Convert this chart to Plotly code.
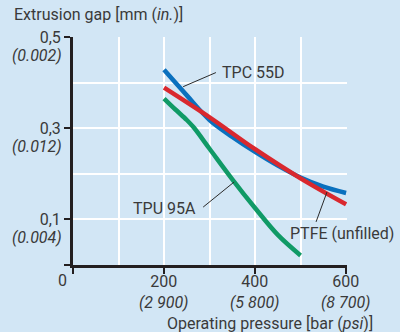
import plotly.graph_objects as go

# Operating pressure in bar
pressure_tpc = [200, 250, 300, 350, 400, 450, 500, 550, 600]
gap_tpc = [0.428, 0.372, 0.318, 0.281, 0.248, 0.218, 0.192, 0.172, 0.158]

pressure_ptfe = [200, 300, 400, 500, 600]
gap_ptfe = [0.389, 0.324, 0.254, 0.190, 0.133]

pressure_tpu = [200, 225, 250, 265, 300, 350, 400, 450, 500]
gap_tpu = [0.365, 0.341, 0.318, 0.302, 0.255, 0.188, 0.125, 0.066, 0.021]

x_ticks = [0, 200, 400, 600]
x_labels = ["", "200", "400", "600"]
x_labels_psi = ["(2 900)", "(5 800)", "(8 700)"]

y_ticks = [0, 0.1, 0.3, 0.5]
y_labels = ["", "0,1", "0,3", "0,5"]
y_labels_in = ["(0.004)", "(0.012)", "(0.002)"]

BG = "#d2e6f5"
INK = "#3a3a3a"
FONT = "Roboto"
FS = 16

fig = go.Figure()
fig.add_trace(go.Scatter(x=pressure_tpu, y=gap_tpu, mode="lines",
                         line=dict(color="#109a66", width=4.5, shape="spline")))
fig.add_trace(go.Scatter(x=pressure_tpc, y=gap_tpc, mode="lines",
                         line=dict(color="#0a70be", width=4.5, shape="spline")))
fig.add_trace(go.Scatter(x=pressure_ptfe, y=gap_ptfe, mode="lines",
                         line=dict(color="#d9282e", width=4.5, shape="spline")))

annotations = []
# x tick labels: bar on the first line, psi (italic) below
for xv, t, tp in zip(x_ticks[1:], x_labels[1:], x_labels_psi):
    annotations.append(dict(x=xv, y=0, xref="x", yref="paper",
                            text=f"{t}<br><i>{tp}</i>",
                            showarrow=False, xanchor="center", yanchor="top",
                            yshift=-6, borderpad=0,
                            font=dict(family=FONT, size=FS, color=INK)))
# y secondary (inch, italic) labels under the mm tick labels
for yv, t in zip(y_ticks[1:], y_labels_in):
    annotations.append(dict(x=0, y=yv, xref="paper", yref="y", text=f"<i>{t}</i>",
                            showarrow=False, xanchor="right", yanchor="middle",
                            xshift=-9, yshift=-18, font=dict(family=FONT, size=FS, color=INK)))
annotations.append(dict(x=0, y=0, xref="x", yref="y", text="0", showarrow=False,
                        xanchor="center", yanchor="middle", xshift=-11, yshift=-15,
                        font=dict(family=FONT, size=FS, color=INK)))
# axis titles
annotations.append(dict(x=0, y=1, xref="paper", yref="paper",
                        text="Extrusion gap [mm (<i>in.</i>)]", showarrow=False,
                        xanchor="left", yanchor="middle", xshift=-61, yshift=23,
                        font=dict(family=FONT, size=FS, color=INK)))
annotations.append(dict(x=1, y=0, xref="paper", yref="paper",
                        text="Operating pressure [bar (<i>psi</i>)]", showarrow=False,
                        xanchor="right", yanchor="middle", xshift=28, yshift=-58,
                        font=dict(family=FONT, size=FS, color=INK)))
# series labels
annotations.append(dict(x=323, y=0.422, text="TPC 55D", showarrow=False,
                        xanchor="left", yanchor="middle",
                        font=dict(family=FONT, size=FS, color=INK)))
annotations.append(dict(x=200, y=0.125, text="TPU 95A", showarrow=False,
                        xanchor="center", yanchor="middle",
                        font=dict(family=FONT, size=FS, color=INK)))
annotations.append(dict(x=592, y=0.070, text="PTFE (unfilled)", showarrow=False,
                        xanchor="center", yanchor="middle",
                        font=dict(family=FONT, size=FS, color=INK)))

# leader lines from labels to curves
leaders = [((242, 0.391), (314, 0.422)),
           ((286, 0.127), (354, 0.182)),
           ((534, 0.0945), (558, 0.160))]
shapes = [dict(type="line", x0=a[0], y0=a[1], x1=b[0], y1=b[1], xref="x", yref="y",
               line=dict(color="#2a2a2a", width=1)) for a, b in leaders]

fig.update_layout(
    width=400, height=332,
    margin=dict(l=73, r=53, t=37, b=67),
    paper_bgcolor=BG, plot_bgcolor=BG,
    showlegend=False,
    font=dict(family=FONT, size=FS, color=INK),
    annotations=annotations, shapes=shapes,
)
fig.update_xaxes(range=[0, 602], tickmode="array", tickvals=x_ticks,
                 showticklabels=False,
                 showline=True, linecolor="#231f20", linewidth=3,
                 ticks="outside", ticklen=6, tickwidth=2, tickcolor="#231f20",
                 showgrid=False, zeroline=False,
                 minor=dict(dtick=100, tick0=0, showgrid=True, gridcolor="white",
                            gridwidth=1.5, ticks=""))
fig.update_yaxes(range=[0, 0.5], tickmode="array", tickvals=y_ticks, ticktext=y_labels,
                 showline=True, linecolor="#231f20", linewidth=3,
                 ticks="outside", ticklen=6, tickwidth=2, tickcolor="#231f20",
                 showgrid=False, zeroline=False,
                 minor=dict(dtick=0.1, tick0=0, showgrid=True, gridcolor="white",
                            gridwidth=1.5, ticks=""))

fig.write_html("out.html")
